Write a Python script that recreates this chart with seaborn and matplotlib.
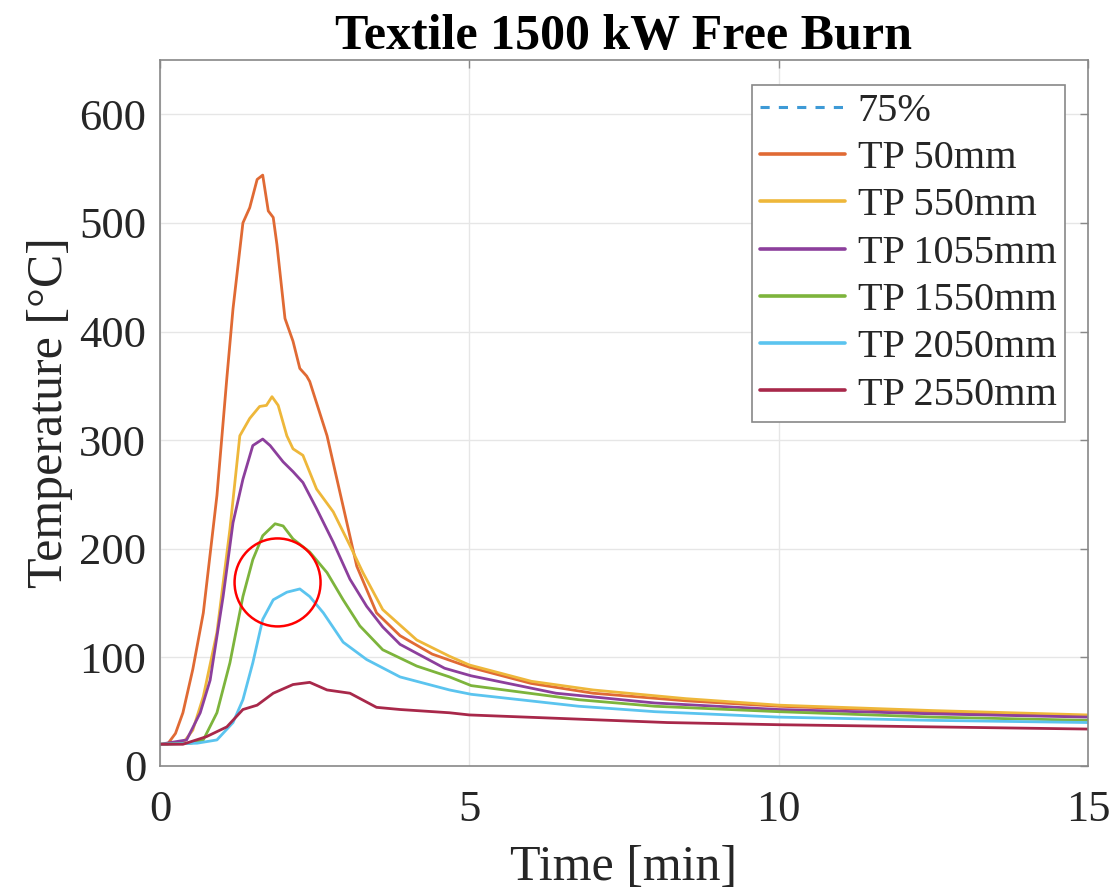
import numpy as np
import pandas as pd
import matplotlib
matplotlib.use("Agg")
import matplotlib.pyplot as plt
from matplotlib.patches import Ellipse
import seaborn as sns

# ---- data ----
series_names = ["TP 50mm", "TP 550mm", "TP 1055mm", "TP 1550mm", "TP 2050mm", "TP 2550mm"]

t_50 = [0, 0.12, 0.25, 0.37, 0.53, 0.7, 0.92, 1.08, 1.18, 1.34, 1.45, 1.57, 1.66, 1.75, 1.83, 1.89,
        2.02, 2.15, 2.26, 2.37, 2.42, 2.7, 2.96, 3.18, 3.5, 3.88, 4.4, 5.0, 6.0, 7.0, 8.5, 10, 12.5, 15]
T_50 = [20, 20, 30, 49, 89, 141, 249, 357, 421, 500, 514, 540, 544, 511, 505, 480,
        412, 391, 366, 359, 354, 304, 239, 184, 141, 120, 103, 91, 76, 67, 60, 55, 50, 46]

t_550 = [0, 0.37, 0.53, 0.7, 0.92, 1.13, 1.29, 1.45, 1.61, 1.72, 1.81, 1.91, 2.05, 2.15, 2.31, 2.53,
         2.8, 3.07, 3.28, 3.6, 4.15, 4.68, 5.0, 6.0, 7.0, 8.5, 10, 12.5, 15]
T_550 = [20, 21, 33, 64, 123, 218, 304, 320, 331, 332, 340, 332, 304, 292, 286, 255,
         234, 203, 178, 144, 116, 101, 93, 78, 70, 62, 56, 51, 47]

t_1055 = [0, 0.43, 0.65, 0.81, 1.02, 1.18, 1.34, 1.5, 1.66, 1.78, 1.99, 2.15, 2.31, 2.53, 2.8, 3.07,
          3.34, 3.6, 3.88, 4.6, 5.03, 6.4, 8.0, 10, 12.5, 15]
T_1055 = [20, 24, 49, 79, 156, 224, 264, 295, 301, 295, 280, 271, 261, 237, 206, 172,
          147, 128, 112, 90, 83, 67, 58, 52, 48, 45]

t_1550 = [0, 0.5, 0.7, 0.92, 1.13, 1.34, 1.5, 1.66, 1.86, 1.99, 2.15, 2.42, 2.7, 2.96, 3.23, 3.6,
          4.15, 4.68, 5.03, 6.77, 8.0, 10, 12.5, 15]
T_1550 = [20, 21, 24, 49, 95, 156, 190, 212, 223, 221, 209, 197, 178, 153, 129, 107,
          92, 82, 74, 61, 55, 50, 45, 42]

t_2050 = [0, 0.6, 0.92, 1.18, 1.34, 1.5, 1.66, 1.83, 2.05, 2.26, 2.42, 2.64, 2.96, 3.34, 3.88, 4.68,
          5.03, 6.77, 8.0, 10, 12.5, 15]
T_2050 = [20, 21, 24, 40, 61, 95, 135, 153, 160, 163, 156, 141, 114, 98, 82, 70,
          66, 55, 50, 45, 42, 40]

t_2550 = [0, 0.37, 0.75, 1.08, 1.34, 1.57, 1.83, 2.15, 2.42, 2.7, 3.07, 3.5, 3.88, 4.68, 5.0, 8.2,
          10, 12.5, 15]
T_2550 = [20, 20, 27, 36, 52, 56, 67, 75, 77, 70, 67, 54, 52, 49, 47, 40,
          38, 36, 34]

series_colors = ["#E06A34", "#EEB73A", "#8C3F9C", "#7DB43C", "#5BC4EF", "#A8284A"]
ref_label = "75%"
ref_color = "#3E9AD6"

x_ticks = [0, 5, 10, 15]
y_ticks = [0, 100, 200, 300, 400, 500, 600]

# circle annotation (data coords)
circle_center = (1.9, 169)

# ---- build long dataframe ----
times = [t_50, t_550, t_1055, t_1550, t_2050, t_2550]
temps = [T_50, T_550, T_1055, T_1550, T_2050, T_2550]
frames = []
for name, tt, TT in zip(series_names, times, temps):
    frames.append(pd.DataFrame({"Time": tt, "Temperature": TT, "Sensor": name}))
df = pd.concat(frames, ignore_index=True)

sns.set_style("white")
plt.rcParams["font.family"] = ["Liberation Serif", "DejaVu Serif"]

fig = plt.figure(figsize=(11.12, 8.91), dpi=100)
ax = fig.add_axes([0.1439, 0.1403, 0.8345, 0.7924])

# legend-only reference line (no visible data in the plot area)
ax.plot([], [], linestyle=(0, (3, 3)), color=ref_color, linewidth=2.2, label=ref_label)

sns.lineplot(data=df, x="Time", y="Temperature", hue="Sensor", hue_order=series_names,
             palette=series_colors, linewidth=2.0, ax=ax, sort=False, estimator=None,
             legend=False)
for name, c in zip(series_names, series_colors):
    ax.plot([], [], color=c, linewidth=2.6, label=name)

ax.add_patch(Ellipse(circle_center, width=1.39, height=81, fill=False,
                     edgecolor="#FF0000", linewidth=1.8, zorder=5))

ax.set_xlim(0, 15)
ax.set_ylim(0, 650)
ax.set_xticks(x_ticks)
ax.set_yticks(y_ticks)
ax.grid(True, color="#E6E6E6", linewidth=1.0)
ax.set_axisbelow(True)
for s in ax.spines.values():
    s.set_color("#888888")
    s.set_linewidth(1.2)
ax.tick_params(direction="in", length=6, width=1.0, color="#888888",
               top=True, right=True, labelsize=32, labelcolor="#262626")
ax.tick_params(axis="x", pad=17)
ax.tick_params(axis="y", pad=10)

ax.set_xlabel("Time [min]", fontsize=36, color="#262626", labelpad=11)
ax.set_ylabel("Temperature [°C]", fontsize=36, color="#262626", labelpad=4)
ax.set_title("Textile 1500 kW Free Burn", fontsize=36, fontweight="bold", color="black", pad=8)

leg = ax.legend(loc="upper right", fontsize=29, frameon=True, fancybox=False,
                framealpha=1.0, edgecolor="#888888", handlelength=2.1,
                handletextpad=0.32, labelspacing=0.25, borderpad=0.2,
                bbox_to_anchor=(0.975, 0.965), borderaxespad=0.0)
leg.get_frame().set_linewidth(1.2)
for txt in leg.get_texts():
    txt.set_color("#262626")

fig.savefig("out.png", dpi=100)
